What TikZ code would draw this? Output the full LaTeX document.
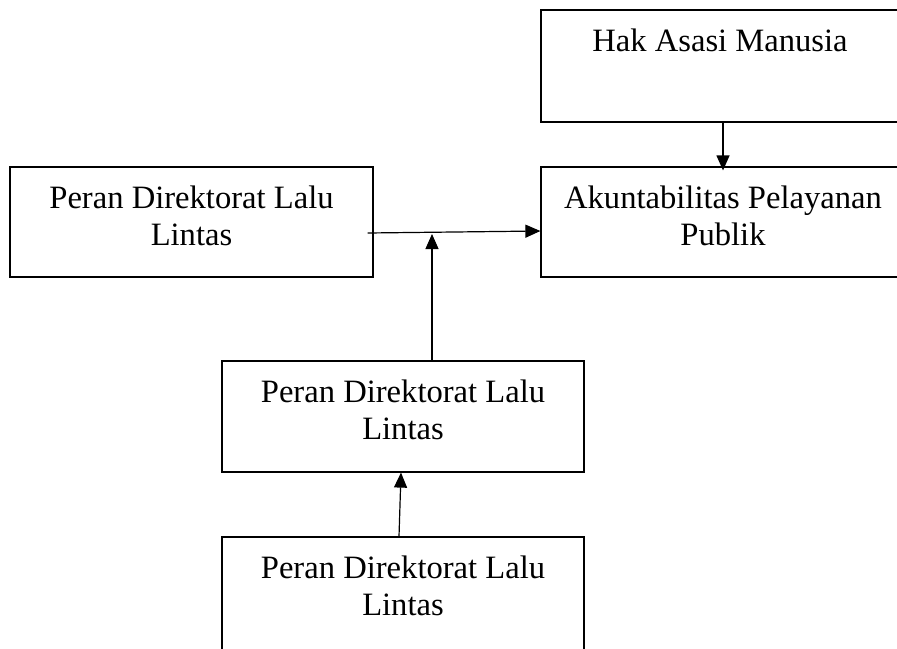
\documentclass[tikz,border=0pt]{standalone}
\usepackage{fontspec}
\setmainfont{Liberation Serif}
\usetikzlibrary{arrows.meta,calc}
\begin{document}
\begin{tikzpicture}[x=0.5pt,y=-0.5pt,
  box/.style={draw,line width=0.6pt,rectangle,inner sep=0},
  lbl/.style={font=\fontsize{16.3}{18.5}\selectfont,align=center,inner sep=0,anchor=north},
  arr/.style={line width=0.6pt,-{Triangle[length=7.5pt,width=6.5pt]}}]
\clip (0,0) rectangle (897,648);
\node[box,minimum width=182pt,minimum height=56pt] (hak) at (723,66) {};
\node[box,minimum width=182pt,minimum height=55pt] (akun) at (723,222) {};
\node[box,minimum width=181.5pt,minimum height=55pt] (left) at (191.5,222) {};
\node[box,minimum width=181pt,minimum height=55.5pt] (mid) at (403,416.5) {};
\node[box,minimum width=181pt,minimum height=57.5pt] (bot) at (403,594.5) {};
\node[lbl] (thak) at (720,28) {Hak Asasi Manusia};
\node[lbl] (takun) at (723,185) {Akuntabilitas Pelayanan\\Publik};
\node[lbl] (tleft) at (191.5,185) {Peran Direktorat Lalu\\Lintas};
\node[lbl] (tmid) at (403,379) {Peran Direktorat Lalu\\Lintas};
\node[lbl] (tbot) at (403,555) {Peran Direktorat Lalu\\Lintas};
\coordinate (jn) at (432,234);
\draw[arr] (hak.south) -- ([yshift=-2pt]akun.north);
\draw[arr] ([shift={(-6,11)}]left.east) -- ([shift={(0,9)}]akun.west);
\draw[arr] (mid.north -| jn) -- (jn);
\draw[arr] ([shift={(-4,0)}]bot.north) -- ([shift={(-2,0)}]mid.south);
\end{tikzpicture}
\end{document}
